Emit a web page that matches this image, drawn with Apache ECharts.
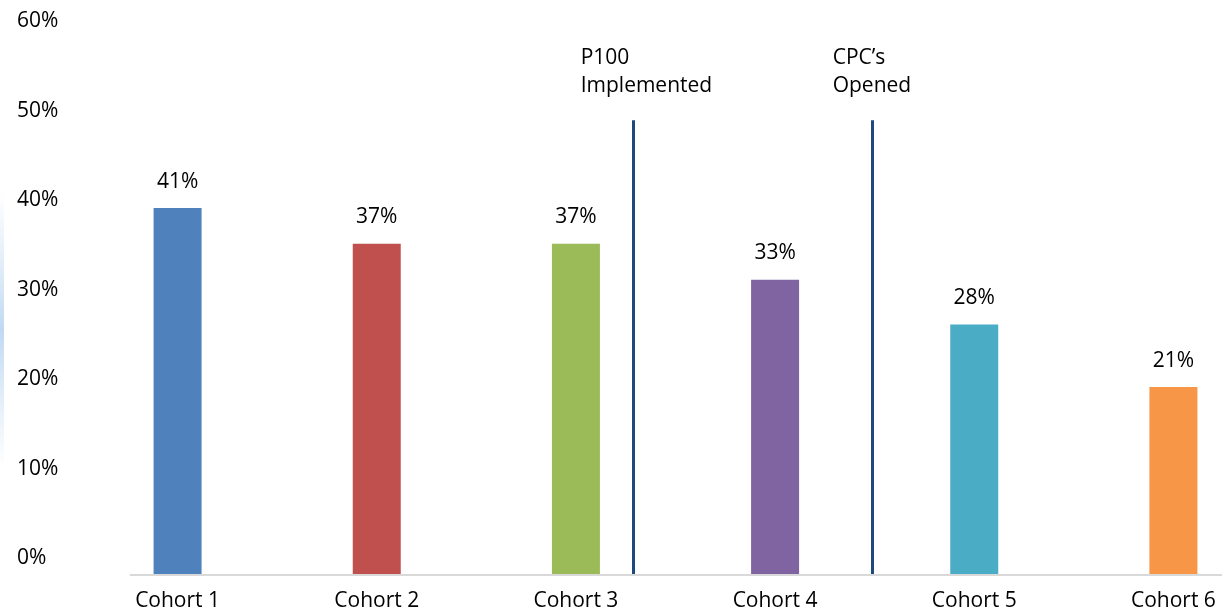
<!DOCTYPE html>
<html>
<head>
<meta charset="utf-8">
<title>Cohort rates</title>
<script src="https://cdn.jsdelivr.net/npm/echarts@6/dist/echarts.min.js"></script>
<style>
  html, body { margin: 0; padding: 0; background: #ffffff; overflow: hidden; }
  /* the last cohort slot runs past the right edge of the page */
  #chart { width: 1273px; height: 612px; }
</style>
</head>
<body>
<div id="chart"></div>
<script>
// Cohorts and their rates (percent)
const categories = ['Cohort 1', 'Cohort 2', 'Cohort 3', 'Cohort 4', 'Cohort 5', 'Cohort 6'];
const rates = [41, 37, 37, 33, 28, 21];
const barColors = ['#4f81bd', '#c0504d', '#9bbb59', '#8064a2', '#4bacc6', '#f79646'];

// Value axis ticks (percent)
const yMin = 0;
const yMax = 60;
const yStep = 10;

// Program milestones, placed between cohorts (in cohort-slot units, 0 = left edge of Cohort 1)
const events = ['P100\nImplemented', 'CPC\u2019s\nOpened'];
const eventPos = [2.79, 3.99];

const FONT = '"Open Sans", "Liberation Sans", sans-serif';
const TXT = '#000000';
const FS = 21;

const chart = echarts.init(document.getElementById('chart'), null, { renderer: 'canvas' });

chart.setOption({
  animation: false,
  backgroundColor: '#ffffff',
  textStyle: { fontFamily: FONT },
  grid: { left: 78, top: 38, right: 0, bottom: 37, containLabel: false },
  xAxis: [
    {
      type: 'category',
      data: categories,
      axisLine: { show: false },
      axisTick: { show: false },
      splitLine: { show: false },
      axisLabel: { color: TXT, fontSize: FS, fontFamily: FONT, margin: 16, interval: 0 }
    },
    {
      // slot-unit scale used to place milestone lines between cohorts
      type: 'value',
      min: 0,
      max: categories.length,
      show: false
    }
  ],
  yAxis: {
    type: 'value',
    min: yMin,
    max: yMax,
    interval: yStep,
    axisLine: { show: false },
    axisTick: { show: false },
    splitLine: { show: false },
    axisLabel: {
      formatter: '{value}%',
      color: TXT,
      fontSize: FS,
      fontFamily: FONT,
      align: 'left',
      verticalAlign: 'bottom',
      lineHeight: 33,
      margin: 61
    }
  },
  series: [
    {
      type: 'bar',
      barWidth: 48,
      z: 2,
      data: rates.map((v, i) => ({ value: v, itemStyle: { color: barColors[i] } })),
      label: {
        show: true,
        position: 'top',
        distance: 16,
        formatter: '{c}%',
        color: TXT,
        fontSize: FS,
        fontFamily: FONT
      }
    },
    {
      // milestone lines and their captions
      type: 'scatter',
      xAxisIndex: 1,
      yAxisIndex: 0,
      symbolSize: 0,
      z: 4,
      silent: true,
      itemStyle: { opacity: 1 },
      data: events.map((t, i) => ({
        value: [eventPos[i], 56.2],
        name: t,
        label: { offset: [i === 0 ? -53 : -40, 0] }
      })),
      label: {
        show: true,
        position: 'right',
        distance: 0,
        align: 'left',
        formatter: p => p.name,
        color: TXT,
        opacity: 1,
        fontSize: FS,
        lineHeight: 28,
        fontFamily: FONT
      },
      markLine: {
        silent: true,
        symbol: 'none',
        animation: false,
        label: { show: false },
        lineStyle: { color: '#1f497d', width: 3, type: 'solid', opacity: 1 },
        emphasis: { disabled: true },
        data: eventPos.map(p => [{ coord: [p, 0] }, { coord: [p, 50.8] }])
      }
    },
    {
      // baseline drawn across the bars
      type: 'scatter',
      xAxisIndex: 1,
      yAxisIndex: 0,
      symbolSize: 0,
      z: 5,
      silent: true,
      data: [],
      markLine: {
        silent: true,
        symbol: 'none',
        animation: false,
        label: { show: false },
        lineStyle: { color: '#d9d9d9', width: 2, type: 'solid', opacity: 1 },
        emphasis: { disabled: true },
        data: [[{ coord: [0.26, 0] }, { coord: [categories.length, 0] }]]
      }
    }
  ],
  graphic: [
    {
      // faint blue edge along the left border
      type: 'rect',
      left: 0,
      top: 190,
      shape: { width: 4, height: 280 },
      silent: true,
      style: {
        fill: new echarts.graphic.LinearGradient(0, 0, 0, 1, [
          { offset: 0, color: 'rgba(190,215,240,0)' },
          { offset: 0.5, color: 'rgba(170,205,238,0.75)' },
          { offset: 1, color: 'rgba(190,215,240,0)' }
        ])
      }
    }
  ]
});
</script>
</body>
</html>
